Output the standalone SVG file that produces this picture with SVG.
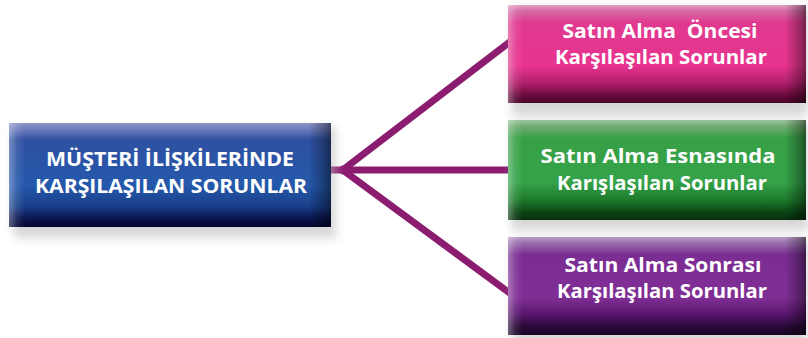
<svg xmlns="http://www.w3.org/2000/svg" width="808" height="338" viewBox="0 0 808 338">
  <defs>
    <filter id="sh" x="-10%" y="-30%" width="120%" height="160%">
      <feGaussianBlur stdDeviation="5"/>
    </filter>
    <linearGradient id="vBlue" x1="0" y1="0" x2="0" y2="1">
      <stop offset="0" stop-color="#8c94c8"/>
      <stop offset="0.06" stop-color="#6d7cbc"/>
      <stop offset="0.16" stop-color="#2f50a2"/>
      <stop offset="0.6" stop-color="#2459ab"/>
      <stop offset="0.8" stop-color="#1a3f8a"/>
      <stop offset="0.92" stop-color="#0a1450"/>
      <stop offset="1" stop-color="#040830"/>
    </linearGradient>
    <linearGradient id="vPink" x1="0" y1="0" x2="0" y2="1">
      <stop offset="0" stop-color="#e3a0c4"/>
      <stop offset="0.06" stop-color="#d56aa6"/>
      <stop offset="0.18" stop-color="#e0398f"/>
      <stop offset="0.62" stop-color="#e8348f"/>
      <stop offset="0.8" stop-color="#b01f6c"/>
      <stop offset="0.92" stop-color="#6a0a3c"/>
      <stop offset="1" stop-color="#4a0528"/>
    </linearGradient>
    <linearGradient id="vGreen" x1="0" y1="0" x2="0" y2="1">
      <stop offset="0" stop-color="#9cc49c"/>
      <stop offset="0.06" stop-color="#72ad74"/>
      <stop offset="0.18" stop-color="#38a047"/>
      <stop offset="0.62" stop-color="#34a349"/>
      <stop offset="0.8" stop-color="#1e7a2c"/>
      <stop offset="0.92" stop-color="#0a4514"/>
      <stop offset="1" stop-color="#06300c"/>
    </linearGradient>
    <linearGradient id="vPurple" x1="0" y1="0" x2="0" y2="1">
      <stop offset="0" stop-color="#b79cc4"/>
      <stop offset="0.06" stop-color="#9a70ae"/>
      <stop offset="0.18" stop-color="#7a2d92"/>
      <stop offset="0.62" stop-color="#802e95"/>
      <stop offset="0.8" stop-color="#55156a"/>
      <stop offset="0.92" stop-color="#260835"/>
      <stop offset="1" stop-color="#1a0425"/>
    </linearGradient>
    <linearGradient id="hEdge" x1="0" y1="0" x2="1" y2="0">
      <stop offset="0" stop-color="#ffffff" stop-opacity="0.35"/>
      <stop offset="0.025" stop-color="#ffffff" stop-opacity="0.1"/>
      <stop offset="0.05" stop-color="#ffffff" stop-opacity="0"/>
      <stop offset="0.93" stop-color="#000000" stop-opacity="0"/>
      <stop offset="0.985" stop-color="#000000" stop-opacity="0.35"/>
      <stop offset="1" stop-color="#000000" stop-opacity="0.5"/>
    </linearGradient>
    <style>
      .lbl { font-family: "Open Sans", "Liberation Sans", sans-serif; font-weight: bold; fill: #ffffff; text-anchor: middle; }
      .big { font-size: 20px; }
      .sm { font-size: 19px; }
      .conn { stroke: #8b1c6f; stroke-width: 7; fill: none; stroke-linecap: butt; }
      .shadow { fill: #b8b8b8; opacity: 0.55; }
    </style>
  </defs>
  <rect width="808" height="338" fill="#ffffff"/>

  <g id="connectors">
    <line class="conn" x1="331" y1="170" x2="348" y2="170"/>
    <line class="conn" x1="340" y1="170" x2="512" y2="170"/>
    <line class="conn" x1="340" y1="172" x2="511" y2="41"/>
    <line class="conn" x1="340" y1="168" x2="511" y2="294"/>
  </g>

  <g id="root">
    <rect class="shadow" x="14" y="128" width="322" height="110" filter="url(#sh)"/>
    <rect x="9" y="123" width="322" height="104" fill="url(#vBlue)"/>
    <rect x="9" y="123" width="322" height="104" fill="url(#hEdge)"/>
    <text class="lbl big" x="170" y="166" textLength="248" lengthAdjust="spacingAndGlyphs">MÜŞTERİ İLİŞKİLERİNDE</text>
    <text class="lbl big" x="171" y="193" textLength="272" lengthAdjust="spacingAndGlyphs">KARŞILAŞILAN SORUNLAR</text>
  </g>

  <g id="before">
    <rect class="shadow" x="512" y="8" width="296" height="108" filter="url(#sh)"/>
    <rect x="508" y="5" width="298" height="98" fill="url(#vPink)"/>
    <rect x="508" y="5" width="298" height="98" fill="url(#hEdge)"/>
    <text class="lbl sm" x="660" y="38" xml:space="preserve" textLength="195" lengthAdjust="spacingAndGlyphs">Satın Alma  Öncesi</text>
    <text class="lbl sm" x="661" y="64" textLength="212" lengthAdjust="spacingAndGlyphs">Karşılaşılan Sorunlar</text>
  </g>

  <g id="during">
    <rect class="shadow" x="512" y="123" width="296" height="108" filter="url(#sh)"/>
    <rect x="508" y="120" width="298" height="100" fill="url(#vGreen)"/>
    <rect x="508" y="120" width="298" height="100" fill="url(#hEdge)"/>
    <text class="lbl sm" x="658" y="163" textLength="235" lengthAdjust="spacingAndGlyphs">Satın Alma Esnasında</text>
    <text class="lbl sm" x="662" y="190" textLength="210" lengthAdjust="spacingAndGlyphs">Karışlaşılan Sorunlar</text>
  </g>

  <g id="after">
    <rect class="shadow" x="512" y="240" width="296" height="104" filter="url(#sh)"/>
    <rect x="508" y="237" width="298" height="98" fill="url(#vPurple)"/>
    <rect x="508" y="237" width="298" height="98" fill="url(#hEdge)"/>
    <text class="lbl sm" x="663" y="272" textLength="197" lengthAdjust="spacingAndGlyphs">Satın Alma Sonrası</text>
    <text class="lbl sm" x="662" y="298" textLength="210" lengthAdjust="spacingAndGlyphs">Karşılaşılan Sorunlar</text>
  </g>
</svg>
